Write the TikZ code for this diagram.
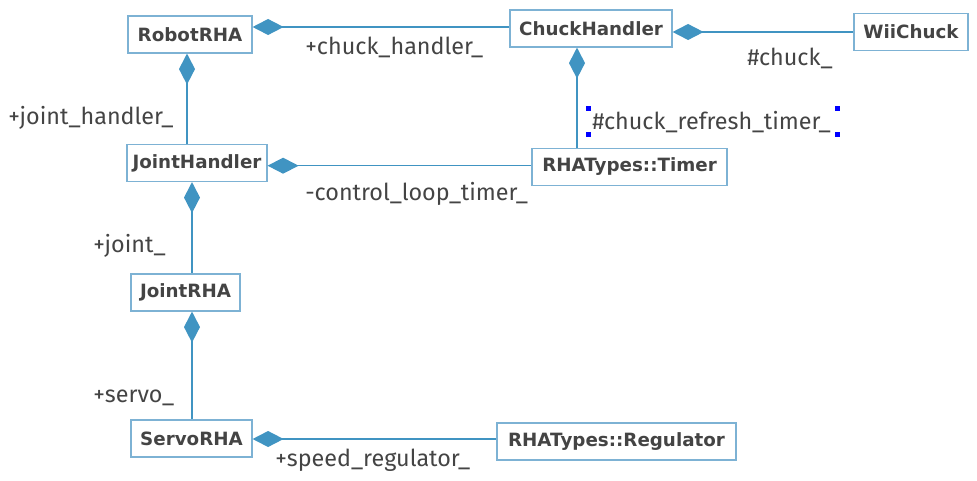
\documentclass[tikz,border=0pt]{standalone}
\usepackage{fontspec}
\setmainfont{DejaVu Sans}
\newfontfamily\rolefont{Fira Sans}
\definecolor{umlblue}{RGB}{64,148,194}
\definecolor{umlborder}{RGB}{125,178,212}
\definecolor{umltext}{RGB}{68,68,68}
\definecolor{handleblue}{RGB}{0,0,255}
\usepackage{tikz}
\usetikzlibrary{arrows.meta, positioning}

\begin{document}
\begin{tikzpicture}[
    x=0.025cm, y=-0.025cm,
    umlclass/.style={rectangle, draw=umlborder, line width=0.8pt, fill=white,
                     minimum height=0.925cm, inner sep=2pt, text=umltext,
                     font=\fontsize{13}{15}\selectfont\bfseries},
    rolelabel/.style={anchor=base west, inner sep=0pt, text=umltext,
                      font=\rolefont\fontsize{16.6}{18}\selectfont},
    comp/.style={draw=umlblue, line width=1.1pt,
                 {Diamond[length=0.775cm, width=0.4cm, fill=umlblue]}-},
    handle/.style={rectangle, fill=handleblue, minimum size=0.125cm, inner sep=0pt}
]
\useasboundingbox (0,0) rectangle (977,480);

\node[umlclass, minimum width=3.1cm]   (robot)     at (190,34.5)   {RobotRHA};
\node[umlclass, minimum width=4.05cm]  (chuck)     at (591,28.5)   {ChuckHandler};
\node[umlclass, minimum width=2.85cm]  (wii)       at (911,32)     {WiiChuck};
\node[umlclass, minimum width=4.875cm] (timer)     at (629.5,167)  {RHATypes::Timer};
\node[umlclass, minimum width=3.5cm]   (jhandler)  at (197,163)    {JointHandler};
\node[umlclass, minimum width=2.725cm] (joint)     at (185.5,292.5) {JointRHA};
\node[umlclass, minimum width=3.025cm] (servo)     at (191.5,438.5) {ServoRHA};
\node[umlclass, minimum width=5.975cm] (regulator) at (616.5,441.5) {RHATypes::Regulator};

\draw[comp] (robot.east |- 0,27) -- (chuck.west |- 0,27);
\draw[comp] (chuck.east |- 0,32) -- (wii.west);
\draw[comp] (chuck.south -| 577,0) -- (timer.north -| 577,0);
\draw[comp] (jhandler.east |- 0,165.7) -- (timer.west |- 0,165.7);
\draw[comp] (robot.south -| 187,0) -- (jhandler.north -| 187,0);
\draw[comp] (jhandler.south -| 192,0) -- (joint.north -| 192,0);
\draw[comp] (joint.south -| 192,0) -- (servo.north -| 192,0);
\draw[comp] (servo.east |- 0,439) -- (regulator.west |- 0,439);

\node[rolelabel] (chl) at (305,54)  {+chuck\_handler\_};
\node[rolelabel] (chk) at (747,65)  {\#chuck\_};
\node[rolelabel] (crt) at (592,129) {\#chuck\_refresh\_timer\_};
\node[rolelabel] (jhl) at (8,124)   {+joint\_handler\_};
\node[rolelabel] (clt) at (305,200) {-control\_loop\_timer\_};
\node[rolelabel] (jnt) at (93,252)  {+joint\_};
\node[rolelabel] (srv) at (93,402)  {+servo\_};
\node[rolelabel] (spd) at (275,466) {+speed\_regulator\_};

\node[handle] (h1) at (588,108) {};
\node[handle] (h2) at (837,108) {};
\node[handle] (h3) at (588,134) {};
\node[handle] (h4) at (837,134) {};
\end{tikzpicture}
\end{document}
